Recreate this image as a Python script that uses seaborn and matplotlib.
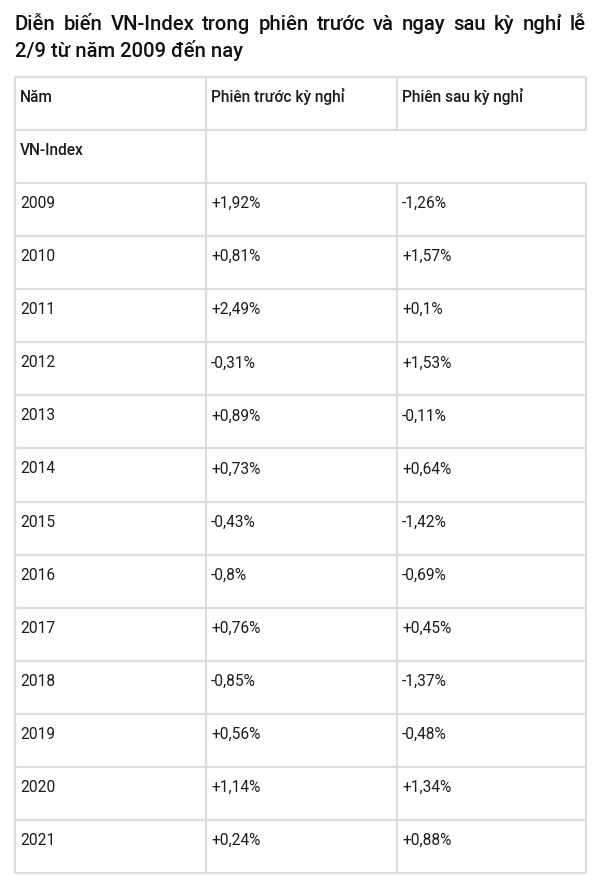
import matplotlib
matplotlib.use("Agg")
import matplotlib.pyplot as plt
import seaborn as sns

# table content
title_line1 = "Diễn biến VN-Index trong phiên trước và ngay sau kỳ nghỉ lễ"
title_line2 = "2/9 từ năm 2009 đến nay"
header = ["Năm", "Phiên trước kỳ nghỉ", "Phiên sau kỳ nghỉ"]
group_label = "VN-Index"
years = ["2009", "2010", "2011", "2012", "2013", "2014", "2015",
         "2016", "2017", "2018", "2019", "2020", "2021"]
before_holiday = ["+1,92%", "+0,81%", "+2,49%", "-0,31%", "+0,89%", "+0,73%", "-0,43%",
                  "-0,8%", "+0,76%", "-0,85%", "+0,56%", "+1,14%", "+0,24%"]
after_holiday = ["-1,26%", "+1,57%", "+0,1%", "+1,53%", "-0,11%", "+0,64%", "-1,42%",
                 "-0,69%", "+0,45%", "-1,37%", "-0,48%", "+1,34%", "+0,88%"]

sns.set_theme(style="white")
plt.rcParams['font.family'] = ['Roboto', 'DejaVu Sans']

W, H = 600, 875
fig = plt.figure(figsize=(W / 100, H / 100), dpi=100, facecolor="white")
ax = fig.add_axes([0, 0, 1, 1])
ax.set_xlim(0, W)
ax.set_ylim(H, 0)
ax.axis("off")

line_c = "#dddddd"
text_c = "#1c1c1c"
lw = 1.6

# column edges and rows (pixels)
cols = [15, 206, 397, 586]
top = 77
row_h = 53.07
n_rows = 2 + len(years)

# title, justified first line
words = title_line1.split()
tw = [ax.text(0, 30, w, fontsize=14.6, fontweight="medium", color="#111111",
              va="baseline", ha="left") for w in words]
fig.canvas.draw()
r = fig.canvas.get_renderer()
widths = [t.get_window_extent(r).width for t in tw]
gap = (cols[-1] - cols[0] - sum(widths)) / (len(words) - 1)
x = cols[0]
for t, w in zip(tw, widths):
    t.set_x(x)
    x += w + gap
ax.text(cols[0], 57, title_line2, fontsize=14.6, fontweight="medium",
        color="#111111", va="baseline", ha="left")

# horizontal lines
for i in range(n_rows + 1):
    y = top + i * row_h
    ax.plot([cols[0], cols[-1]], [y, y], color=line_c, lw=lw, solid_capstyle="butt")

# vertical lines (VN-Index row merges last two cells, no right border)
for j, xc in enumerate(cols):
    for i in range(n_rows):
        y0 = top + i * row_h
        if i == 1 and j >= 2:
            continue
        ax.plot([xc, xc], [y0, y0 + row_h], color=line_c, lw=lw, solid_capstyle="butt")

def cell(i, j, s, weight="normal"):
    ax.text(cols[j] + 5, top + i * row_h + 25, s, fontsize=11.2, color=text_c,
            fontweight=weight, va="baseline", ha="left")

for j, s in enumerate(header):
    cell(0, j, s, "medium")
cell(1, 0, group_label, "medium")
for k in range(len(years)):
    cell(2 + k, 0, years[k])
    cell(2 + k, 1, before_holiday[k])
    cell(2 + k, 2, after_holiday[k])

fig.savefig("out.png", dpi=100, facecolor="white")
